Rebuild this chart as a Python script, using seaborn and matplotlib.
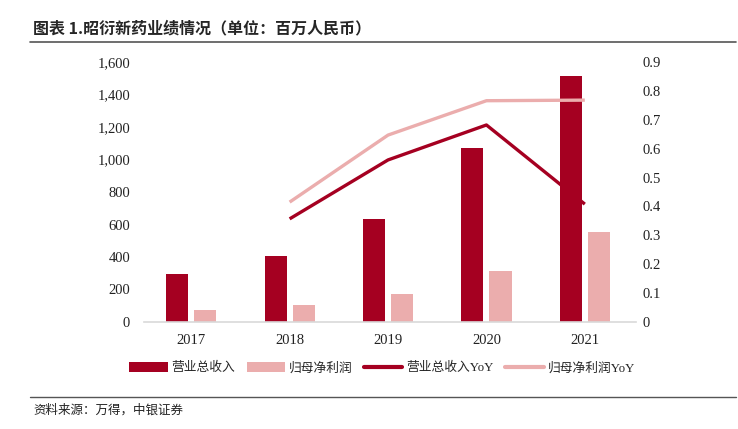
import numpy as np
import pandas as pd
import seaborn as sns
import matplotlib.pyplot as plt
import matplotlib.ticker as tkr
from matplotlib.lines import Line2D
from matplotlib.patches import Patch

years = ["2017", "2018", "2019", "2020", "2021"]
revenue = [298, 406, 636, 1072, 1514]
net_profit = [72, 106, 174, 313, 555]
revenue_yoy = [np.nan, 0.357, 0.561, 0.682, 0.408]
profit_yoy = [np.nan, 0.415, 0.647, 0.766, 0.768]

series_names = ["营业总收入", "归母净利润", "营业总收入YoY", "归母净利润YoY"]
title = "图表 1.昭衍新药业绩情况（单位：百万人民币）"
source = "资料来源：万得，中银证券"

dark = "#A50021"
light = "#EBADAD"

sns.set_style("white")
plt.rcParams["font.family"] = ["Liberation Serif", "Noto Sans CJK SC"]

df = pd.DataFrame({
    "year": years * 2,
    "value": revenue + net_profit,
    "series": [series_names[0]] * 5 + [series_names[1]] * 5,
})

fig = plt.figure(figsize=(7.38, 4.29), dpi=100)
ax = fig.add_axes([144 / 738, 1 - 322 / 429, (636 - 144) / 738, 260 / 429])

sns.barplot(data=df, x="year", y="value", hue="series", order=years,
            palette=[dark, light], width=0.57, gap=0.21, ax=ax, legend=False,
            saturation=1, linewidth=0)
ax.set_ylim(0, 1600)
ax.set_xlim(-0.48, 4.52)
ax.set_yticks(range(0, 1601, 200))
ax.yaxis.set_major_formatter(tkr.FuncFormatter(lambda v, p: f"{int(v):,}"))
ax.set_xlabel("")
ax.set_ylabel("")
for s in ["left", "right", "top"]:
    ax.spines[s].set_visible(False)
ax.spines["bottom"].set_color("#d9d9d9")
ax.spines["bottom"].set_linewidth(1.2)
ax.tick_params(axis="both", length=0, labelsize=10.5, colors="#222222")
ax.tick_params(axis="x", pad=9)
ax.tick_params(axis="y", pad=10)

ax2 = ax.twinx()
pos = np.arange(len(years))
ax2.plot(pos, revenue_yoy, color=dark, lw=2.4, solid_capstyle="butt")
ax2.plot(pos, profit_yoy, color=light, lw=2.4, solid_capstyle="butt")
ax2.set_ylim(0, 0.9)
ax2.set_yticks(np.arange(0, 0.91, 0.1))
ax2.yaxis.set_major_formatter(tkr.FuncFormatter(lambda v, p: "0" if abs(v) < 1e-9 else f"{v:.1f}"))
for s in ["left", "right", "top", "bottom"]:
    ax2.spines[s].set_visible(False)
ax2.tick_params(axis="y", length=0, labelsize=10.5, colors="#222222", pad=5)

handles = [
    Patch(facecolor=dark, edgecolor="none"),
    Patch(facecolor=light, edgecolor="none"),
    Line2D([0], [0], color=dark, lw=3),
    Line2D([0], [0], color=light, lw=3),
]
fig.legend(handles, series_names, loc="center", bbox_to_anchor=(382 / 738, 1 - 368 / 429),
           ncol=4, frameon=False, fontsize=9.2, handlelength=3.0, handleheight=0.9,
           columnspacing=0.9, handletextpad=0.3)

fig.text(33 / 738, 1 - 28 / 429, title, fontsize=11.5, fontweight="bold",
         va="center", ha="left", family=["Noto Sans CJK SC", "DejaVu Sans"])
fig.add_artist(Line2D([30 / 738, 736 / 738], [1 - 42 / 429] * 2, color="#555555", lw=1.2))
fig.add_artist(Line2D([30 / 738, 736 / 738], [1 - 397 / 429] * 2, color="#555555", lw=1.0))
fig.text(33 / 738, 1 - 410 / 429, source, fontsize=9, style="italic",
         va="center", ha="left", family=["Noto Sans CJK SC", "DejaVu Sans"], color="#222222")

fig.savefig("out.png", dpi=100)
